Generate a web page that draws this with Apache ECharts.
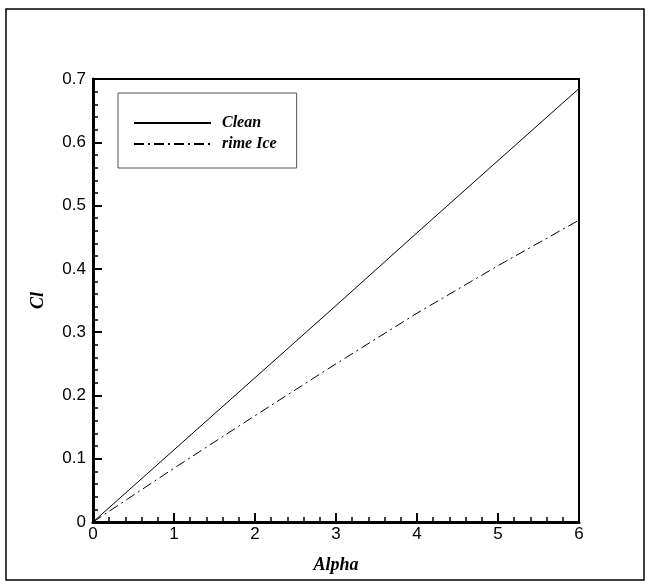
<!DOCTYPE html>
<html>
<head>
<meta charset="utf-8">
<script src="https://cdn.jsdelivr.net/npm/echarts@6/dist/echarts.min.js"></script>
<style>
  html, body { margin: 0; padding: 0; background: #fff; }
  #chart { width: 650px; height: 586px; }
</style>
</head>
<body>
<div id="chart"></div>
<script>
// Lift coefficient versus angle of attack
const alpha = [0, 1, 2, 3, 4, 5, 6];
const clClean = [0, 0.114, 0.228, 0.342, 0.457, 0.571, 0.685];
const clRimeIce = [0, 0.085, 0.168, 0.250, 0.330, 0.405, 0.477];
const seriesNames = ['Clean', 'rime Ice'];

const toPairs = (xs, ys) => xs.map((x, i) => [x, ys[i]]);

const chart = echarts.init(document.getElementById('chart'), null, { renderer: 'canvas' });

const tickFont = { fontFamily: 'Liberation Sans, Arial, sans-serif', fontSize: 17, color: '#000' };
const nameFont = { fontFamily: 'Liberation Serif, Times New Roman, serif', fontSize: 18, fontStyle: 'italic', fontWeight: 'bold', color: '#000' };

chart.setOption({
  animation: false,
  backgroundColor: '#fff',
  graphic: [{
    type: 'rect',
    shape: { x: 6, y: 9, width: 638, height: 571 },
    style: { fill: 'none', stroke: '#000', lineWidth: 1.5 },
    silent: true
  }],
  grid: {
    left: 93, right: 71, top: 79, bottom: 64,
    show: true, borderColor: '#000', borderWidth: 2, backgroundColor: 'transparent'
  },
  legend: {
    orient: 'vertical',
    left: 118, top: 93,
    width: 150,
    padding: [22, 20, 16, 15],
    itemGap: 5,
    itemWidth: 77, itemHeight: 14,
    borderColor: '#555', borderWidth: 1,
    itemStyle: { opacity: 0 },
    textStyle: Object.assign({}, nameFont, { fontSize: 16, padding: [0, 0, 0, 6] }),
    data: seriesNames
  },
  xAxis: {
    type: 'value', min: 0, max: 6, interval: 1,
    name: 'Alpha', nameLocation: 'middle', nameGap: 34, nameTextStyle: nameFont,
    axisLine: { lineStyle: { color: '#000', width: 3 } },
    axisTick: { inside: true, length: 9, lineStyle: { color: '#000', width: 2 } },
    minorTick: { show: true, splitNumber: 5, length: 5, lineStyle: { color: '#000', width: 1.5 } },
    axisLabel: Object.assign({ margin: 4 }, tickFont),
    splitLine: { show: false }
  },
  yAxis: {
    type: 'value', min: 0, max: 0.7, interval: 0.1,
    name: 'Cl', nameLocation: 'middle', nameGap: 46, nameRotate: 90, nameTextStyle: nameFont,
    axisLine: { lineStyle: { color: '#000', width: 3 } },
    axisTick: { inside: true, length: 9, lineStyle: { color: '#000', width: 2 } },
    minorTick: { show: true, splitNumber: 5, length: 5, lineStyle: { color: '#000', width: 1.5 } },
    axisLabel: Object.assign({ margin: 7, formatter: v => String(Math.round(v * 10) / 10) }, tickFont),
    splitLine: { show: false }
  },
  series: [
    {
      name: seriesNames[0], type: 'line', data: toPairs(alpha, clClean),
      symbol: 'none', color: '#000',
      lineStyle: { color: '#000', width: 1 }
    },
    {
      name: seriesNames[1], type: 'line', data: toPairs(alpha, clRimeIce),
      symbol: 'none', color: '#000',
      lineStyle: { color: '#000', width: 1, type: [10, 4, 2, 4] }
    }
  ]
});
</script>
</body>
</html>
